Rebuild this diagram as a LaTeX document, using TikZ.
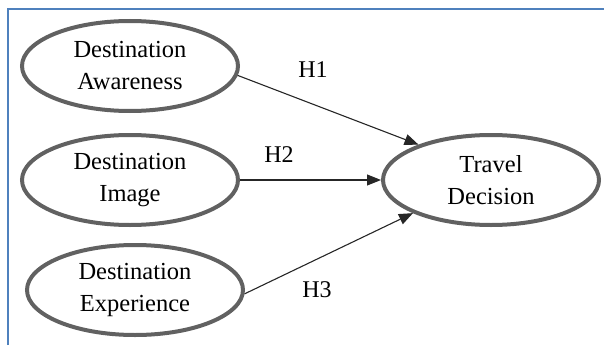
\documentclass[tikz,border=0pt]{standalone}
\usepackage{fontspec}
\setmainfont{Liberation Serif}
\usetikzlibrary{shapes.geometric,arrows.meta}
\begin{document}
\begin{tikzpicture}[x=1pt,y=-1pt,
  construct/.style={ellipse,draw=black!62,line width=4pt,inner sep=0pt,
    minimum width=216pt,minimum height=90pt,align=center,
    font=\rmfamily\fontsize{24.5}{32}\selectfont},
  hyp/.style={-{Triangle[length=14pt,width=11pt]},line width=1.1pt,black!85},
  hlabel/.style={font=\rmfamily\fontsize{24}{26}\selectfont,inner sep=0pt}]
\useasboundingbox (0,0) rectangle (604,345);
\draw[draw={rgb,255:red,79;green,129;blue,189},line width=2pt] (8,345) -- (8,9) -- (604,9);
\node[construct] (aw) at (130,66) {Destination\\Awareness};
\node[construct] (im) at (130,180) {Destination\\Image};
\node[construct] (ex) at (135,290) {Destination\\Experience};
\node[construct] (td) at (491,180) {Travel\\Decision};
\draw[hyp] (aw.-5) -- (td.154);
\draw[hyp] (im.east) -- (td.west);
\draw[hyp] (ex.-2) -- (td.203);
\node[hlabel] (h1) at (313,70) {H1};
\node[hlabel] (h2) at (279,155) {H2};
\node[hlabel] (h3) at (317,290) {H3};
\end{tikzpicture}
\end{document}
